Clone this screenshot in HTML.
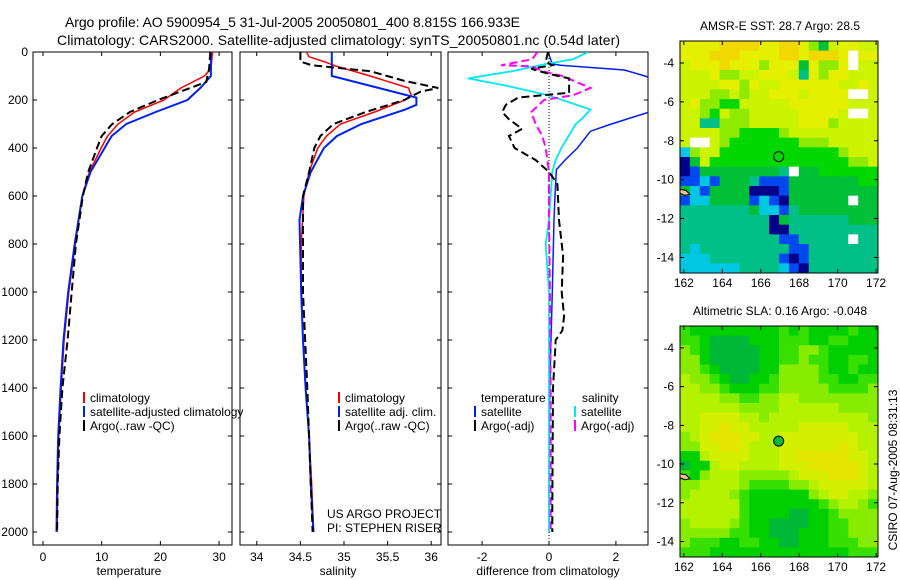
<!DOCTYPE html>
<html><head><meta charset="utf-8">
<style>
html,body{margin:0;padding:0;background:#fff;}
svg{display:block;font-family:"Liberation Sans",sans-serif;}
</style></head>
<body>
<svg id="fig" width="900" height="580" viewBox="0 0 900 580" xmlns="http://www.w3.org/2000/svg">
<rect width="900" height="580" fill="#fff"/>
<text x="65" y="27" font-size="14" textLength="455">Argo profile: AO 5900954_5 31-Jul-2005 20050801_400 8.815S 166.933E</text>
<text x="57" y="45" font-size="14" textLength="563">Climatology: CARS2000. Satellite-adjusted climatology: synTS_20050801.nc (0.54d later)</text>
<g id="g"></g>
<text transform="translate(897,470) rotate(-90)" text-anchor="middle" font-size="12">CSIRO 07-Aug-2005 08:31:13</text>
</svg>
<script>
// ---- profile data ----
const depthTicks=[0,200,400,600,800,1000,1200,1400,1600,1800,2000];
const tempTicks=[0,10,20,30];
const salTicks=[34,34.5,35,35.5,36];
const salTickLabels=["34","34.5","35","35.5","36"];
const diffTicks=[-2,0,2];
const tClimD=[0,70,100,150,200,250,300,350,400,500,600,800,1000,1200,1400,1600,1800,2000];
const tClimV=[28.9,28.6,27.5,23.5,20.6,15.6,12.8,11,9.9,7.9,6.7,5.5,4.4,3.6,3.1,2.7,2.5,2.4];
const tSatD=[0,100,150,200,250,300,350,400,500,600,800,1000,1200,1400,1600,1800,2000];
const tSatV=[28.6,28.6,26.8,24.6,19.2,14.2,11.7,10.5,8.1,6.7,5.4,4.3,3.5,3.0,2.6,2.4,2.3];
const tArgoD=[0,70,125,200,250,300,350,400,500,600,800,1000,1200,1400,1600,1800,2000];
const tArgoV=[28.5,28.3,27.8,19.6,14.8,11.8,10.0,9.2,7.7,6.8,5.6,4.9,4.2,3.3,2.8,2.5,2.4];
const sClimD=[0,20,40,60,100,150,180,200,250,300,350,400,500,600,800,1000,1200,1400,1600,1800,2000];
const sClimV=[34.57,34.6,34.77,34.92,35.3,35.74,35.77,35.7,35.35,34.96,34.8,34.7,34.6,34.54,34.51,34.51,34.53,34.56,34.6,34.63,34.65];
const sSatD=[0,100,190,220,240,300,350,400,500,600,700,1000,1200,1400,1600,1800,2000];
const sSatV=[34.86,34.86,35.83,35.83,35.7,35.2,34.92,34.77,34.62,34.53,34.49,34.51,34.53,34.56,34.6,34.62,34.65];
const sArgoD=[0,40,55,80,120,150,165,200,250,300,350,400,500,600,800,1000,1400,1800,2000];
const sArgoV=[34.5,34.5,34.63,35.3,35.69,36.08,35.88,35.69,35.25,34.88,34.73,34.66,34.6,34.53,34.53,34.53,34.58,34.62,34.64];
const dTSatD=[0,50,55,75,100,118,250,300,330,400,450,490,600,700,1000,1400,1800,1950];
const dTSatV=[-0.03,0.1,0.35,2.25,2.87,3.2,3.0,1.87,1.24,0.85,0.48,0.22,0.18,0.15,0.1,0.02,0.0,0.0];
const dTArgoD=[0,40,55,70,90,110,170,190,220,250,280,320,350,400,450,500,550,700,850,1000,1100,1160,1200,1300,1400,1900,2000];
const dTArgoV=[-0.03,-0.1,0.1,-0.53,-0.03,0.6,0.6,-0.92,-1.29,-1.4,-1.2,-0.8,-1.2,-1.03,-0.4,0,0.25,0.3,0.42,0.38,0.45,0.4,0.2,0.16,0.12,0.1,0.1];
const dSArgoD=[0,30,55,60,80,100,150,180,200,250,300,350,400,500,700,1000,1400,2000];
const dSArgoV=[-0.35,-0.5,-1.43,-0.5,-0.2,0.4,1.24,0.72,-0.15,-0.53,-0.4,-0.2,-0.1,0,0,0.03,0.05,0.05];
const dSSatD=[0,30,50,80,110,140,180,200,240,280,300,400,450,500,700,800,1000,2000];
const dSSatV=[1.17,0.72,-0.1,-1.1,-2.42,-1.29,-0.03,0.4,1.24,0.97,0.8,0.37,0.2,0.1,0,-0.1,0,0];
// ---- map data (0.5 degree cells, level codes, W = missing) ----
const sstRows=[
"88889999889986478877","88899988889989998W88","78889888688848668W77","77786677888738688777",
"77778868778888887787","77766767788878888WW7","78665577777888888777","77657667777788887WW7",
"77336667777788867777","77776655556777777777","7WW76555555566677777","26775555555555556777",
"04755555555555555667","01444444443W44555555","11214443111444444455","42144440001444444444",
"12244441210444444W44","33333334221344444444","33333333304333333444","33333333300333333333",
"33333333331133333W33","32333333333113333333","22233333331013333333","22222233332103333333"];
const slaRows=[
"21111111112121111211","22100001112221122111","32100000112233211111","33100000112232211221",
"33210000113333211211","43321001123333221122","44332111223333322223","44443322334433333333",
"44444433334444443333","44555544344444444443","44556554444455555444","34566655445555555544",
"33556654445555556544","11455554445566666554","01145544445556666654","21344433333455566654",
"33444432222334555554","34444321111113455443","44444421111111234432","44444421111001123333",
"34444321100001122333","33333221100011122333","32221122110011122233","22211111111111111222"];
const sstColors=["#00008a","#0048f0","#00c8e0","#00c088","#00c038","#00d800","#90ea00","#ccf400","#e4f000","#f0d800"];
const slaColors=["#00b838","#00d000","#38e000","#88ec00","#b4f200","#d4f000","#e6e600"];
const lonTicks=[162,164,166,168,170,172];
const latTicks=[-4,-6,-8,-10,-12,-14];
const argoLon=166.933, argoLat=-8.815;

const NS="http://www.w3.org/2000/svg";
const G=document.getElementById('g');
function mk(tag,attrs,parent){const e=document.createElementNS(NS,tag);for(const k in attrs)e.setAttribute(k,attrs[k]);(parent||G).appendChild(e);return e;}
const Y0=52, YS=0.24;
function yD(d){return Y0+d*YS;}
function panel(name,x0,x1,xmin,xmax){
  const sx=v=>x0+(v-xmin)/(xmax-xmin)*(x1-x0);
  const r=mk('rect',{x:x0,y:52,width:x1-x0,height:493,fill:'none',stroke:'#000','stroke-width':1});
  
  
  depthTicks.forEach(d=>{
    const t=mk('path',{d:`M${x0},${yD(d)}h4M${x1},${yD(d)}h-4`,stroke:'#000'});
    
    
  });
  return sx;
}
function line(name,sx,D,V,color,w,dash){
  let d='';D.forEach((dd,i)=>{d+=(i?'L':'M')+sx(V[i]).toFixed(1)+','+yD(dd).toFixed(1);});
  const p=mk('path',{d:d,fill:'none',stroke:color,'stroke-width':w});
  if(dash)p.setAttribute('stroke-dasharray',dash);
  
  
  return p;
}
function txt(s,x,y,anchor,name,size){
  const t=mk('text',{x:x,y:y,'font-size':size||12,'text-anchor':anchor||'start'});
  t.textContent=s;
  
  
  return t;
}
function xticks(name,sx,ticks,labels){
  ticks.forEach((v,i)=>{
    const x=sx(v);
    const t=mk('path',{d:`M${x},545v-4M${x},52v4`,stroke:'#000'});
    
    
    txt(labels?labels[i]:String(v),x,561,'middle',name+'-x-tick-label');
  });
}
const defs=mk('defs',{});
[[33,232],[240,441],[448,648]].forEach((p,i)=>{const c=mk('clipPath',{id:'c'+i},defs);mk('rect',{x:p[0],y:52,width:p[1]-p[0],height:493},c);});
depthTicks.forEach(d=>txt(String(d),28,yD(d)+4,'end','depth-tick-label'));
const sxT=panel('temperature-panel',33,232,-1.7,32.2);
let g1=mk('g',{'clip-path':'url(#c0)'});
[[tClimD,tClimV,'#f00','climatology-temp-line',1.5,null],[tSatD,tSatV,'#0020f0','satellite-temp-line',2,null],[tArgoD,tArgoV,'#000','argo-temp-line',2,'8,4']].forEach(a=>{g1.appendChild(line(a[3],sxT,a[0],a[1],a[2],a[4],a[5]));});
xticks('temperature',sxT,tempTicks,null);
txt('temperature',129,575,'middle','temperature-axis-title');
const sxS=panel('salinity-panel',240,441,33.808,36.112);
let g2=mk('g',{'clip-path':'url(#c1)'});
[[sClimD,sClimV,'#f00','climatology-sal-line',1.5,null],[sSatD,sSatV,'#0020f0','satellite-sal-line',2,null],[sArgoD,sArgoV,'#000','argo-sal-line',2,'8,4']].forEach(a=>{g2.appendChild(line(a[3],sxS,a[0],a[1],a[2],a[4],a[5]));});
xticks('salinity',sxS,salTicks,salTickLabels);
txt('salinity',338,575,'middle','salinity-axis-title');
const sxD=panel('difference-panel',448,648,-3.02,2.96);
let g3=mk('g',{'clip-path':'url(#c2)'});
const z=mk('path',{d:`M${sxD(0)},52V545`,stroke:'#000','stroke-dasharray':'1,2','stroke-width':1},g3);

[[dTSatD,dTSatV,'#0020f0','temp-sat-diff-line',1.5,null],[dSSatD,dSSatV,'#00e8f0','sal-sat-diff-line',1.8,null],[dSArgoD,dSArgoV,'#f0f','sal-argo-diff-line',2,'8,4'],[dTArgoD,dTArgoV,'#000','temp-argo-diff-line',2,'8,4']].forEach(a=>{g3.appendChild(line(a[3],sxD,a[0],a[1],a[2],a[4],a[5]));});
xticks('difference',sxD,diffTicks,null);
txt('difference from climatology',548,575,'middle','difference-axis-title');
function leg(x,y,color,label,name){
  const b=mk('rect',{x:x,y:y-10,width:2,height:11,fill:color});
  
  txt(label,x+7,y,'start',name);
}
leg(83,402,'#f00','climatology','legend-climatology');
leg(83,416,'#0020f0','satellite-adjusted climatology','legend-satellite');
leg(83,430,'#000','Argo(..raw -QC)','legend-argo');
leg(338,402,'#f00','climatology','legend2-climatology');
leg(338,416,'#0020f0','satellite adj. clim.','legend2-satellite');
leg(338,430,'#000','Argo(..raw -QC)','legend2-argo');
txt('temperature',481,402,'start','legend3-temperature-header');
txt('salinity',582,402,'start','legend3-salinity-header');
leg(474,416,'#0020f0','satellite','legend3-temp-satellite');
leg(474,430,'#000','Argo(-adj)','legend3-temp-argo');
leg(574,416,'#00e8f0','satellite','legend3-sal-satellite');
leg(574,430,'#f0f','Argo(-adj)','legend3-sal-argo');
txt('US ARGO PROJECT',327,518,'start','project-label');
txt('PI: STEPHEN RISER',327,532,'start','pi-label');
function map(name,top,bot,rows,colors,title,filled){
  const L=680,R=878,lon0=161.8,lon1=172.1,lat0=-2.87,lat1=-14.8;
  const px=lo=>L+(lo-lon0)/(lon1-lon0)*(R-L);
  const py=la=>top+(la-lat0)/(lat1-lat0)*(bot-top);
  const cg=mk('g',{});
  
  const nr=rows.length;
  rows.forEach((row,j)=>{
    const nc=row.length;
    for(let i=0;i<nc;i++){
      const ch=row[i];
      const la=lat0+(lat1-lat0)*j/nr, la2=lat0+(lat1-lat0)*(j+1)/nr;
      const lo=lon0+(lon1-lon0)*i/nc, lo2=lon0+(lon1-lon0)*(i+1)/nc;
      const c=mk('rect',{x:px(lo).toFixed(2),y:py(la).toFixed(2),width:(px(lo2)-px(lo)+0.4).toFixed(2),height:(py(la2)-py(la)+0.4).toFixed(2),fill:ch==='W'?'#fff':colors[+ch]},cg);
      
      
    }
  });
  const land=mk('path',{d:`M${px(161.8)},${py(-10.5)}l6,1l4,4l-5,1l-5,-2z`,fill:'#f4c090',stroke:'#000','stroke-width':1});
  
  const fr=mk('rect',{x:L,y:top,width:R-L,height:bot-top,fill:'none',stroke:'#000'});
  
  lonTicks.forEach(lo=>{
    const t=mk('path',{d:`M${px(lo)},${top}v4M${px(lo)},${bot}v-4`,stroke:'#000'});
    
    txt(String(lo),px(lo),bot+14,'middle',name+'-lon-label');
  });
  latTicks.forEach(la=>{
    const t=mk('path',{d:`M${L},${py(la)}h4M${R},${py(la)}h-4`,stroke:'#000'});
    
    txt(String(la),L-6,py(la)+4,'end',name+'-lat-label');
  });
  const c=mk('circle',{cx:px(argoLon),cy:py(argoLat),r:5,fill:filled?'#00b838':'none',stroke:'#000'});
  
  txt(title,780,top-11,'middle',name+'-title');
}
map('sst-map',41,273,sstRows,sstColors,'AMSR-E SST: 28.7 Argo: 28.5',false);
map('sla-map',326,557,slaRows,slaColors,'Altimetric SLA: 0.16 Argo: -0.048',true);
</script>
</body></html>
